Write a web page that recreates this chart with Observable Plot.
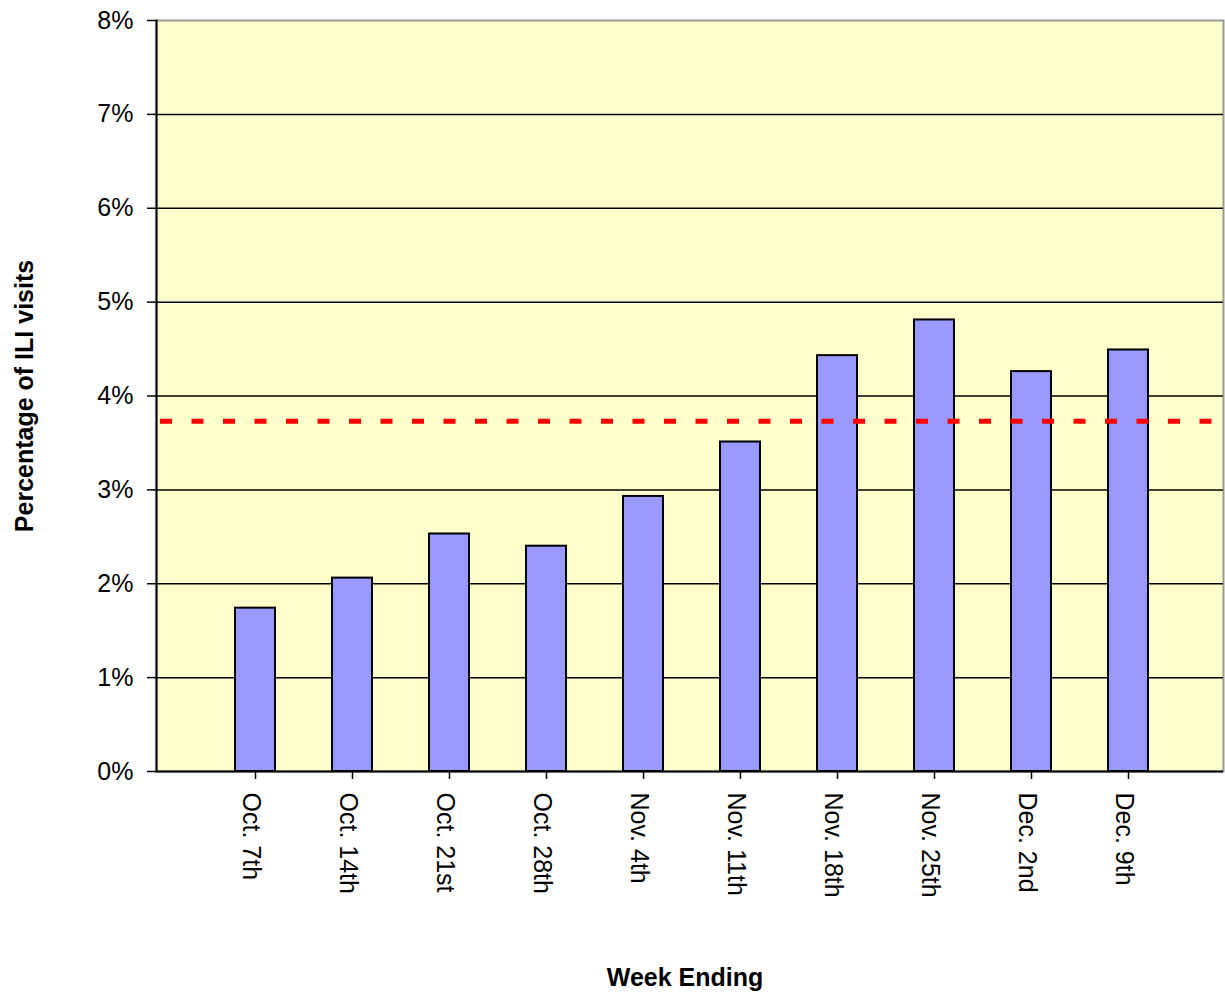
<!DOCTYPE html>
<html>
<head>
<meta charset="utf-8">
<script src="https://cdn.jsdelivr.net/npm/d3@7"></script>
<script src="https://cdn.jsdelivr.net/npm/@observablehq/plot@0.6"></script>
<style>
  html, body { margin: 0; padding: 0; background: #ffffff; }
  #chart svg { display: block; }
</style>
</head>
<body>
<div id="chart"></div>
<script>
const weeks = ["Oct. 7th","Oct. 14th","Oct. 21st","Oct. 28th","Nov. 4th","Nov. 11th","Nov. 18th","Nov. 25th","Dec. 2nd","Dec. 9th"];
const iliPct = [1.74, 2.06, 2.53, 2.40, 2.93, 3.51, 4.43, 4.81, 4.26, 4.49];
const baselinePct = 3.73;
const yTicks = [0, 1, 2, 3, 4, 5, 6, 7, 8];
const gridTicks = [1, 2, 3, 4, 5, 6, 7];
const xTitle = "Week Ending";
const yTitle = "Percentage of ILI visits";

const data = weeks.map((w, i) => ({week: w, pct: iliPct[i]}));

const chart = Plot.plot({
  width: 1225,
  height: 996,
  marginLeft: 156,
  marginRight: 2,
  marginTop: 20,
  marginBottom: 225,
  style: {fontFamily: "'Liberation Sans', Arial, sans-serif", fontSize: "25px", color: "#000", background: "#ffffff"},
  x: {type: "band", domain: weeks, paddingInner: 0.588, paddingOuter: 0.784, align: 0.512},
  y: {domain: [0, 8]},
  marks: [
    Plot.frame({fill: "#FFFFCC", stroke: "#999999", strokeWidth: 2}),
    Plot.ruleY(gridTicks, {stroke: "#000", strokeWidth: 1.5}),
    Plot.barY(data, {x: "week", y: "pct", fill: "#9999FF", stroke: "#000", strokeWidth: 2}),
    Plot.ruleY([baselinePct], {stroke: "#FF0000", strokeWidth: 5, strokeDasharray: "12,19.5", strokeDashoffset: -4}),
    Plot.frame({anchor: "left", stroke: "#000", strokeWidth: 2}),
    Plot.ruleY([0], {stroke: "#000", strokeWidth: 2}),
    Plot.axisY({ticks: yTicks, tickFormat: d => d + "%", tickSize: 9, tickPadding: 14, fontSize: 25, label: null, stroke: "#000", strokeWidth: 1.5}),
    Plot.axisX({tickSize: 8, tickFormat: () => "", label: null, stroke: "#000", strokeWidth: 1.5}),
    Plot.text(weeks, {x: d => d, frameAnchor: "bottom", rotate: 90, textAnchor: "start", lineAnchor: "middle", dx: -5, dy: 21, fontSize: 25, fill: "#000"}),
    Plot.text([yTitle], {frameAnchor: "left", dx: -132, rotate: -90, fontSize: 25, fontWeight: "bold", textAnchor: "middle", lineAnchor: "middle", fill: "#000"}),
    Plot.text([xTitle], {frameAnchor: "bottom", dx: -5, dy: 206, fontSize: 25, fontWeight: "bold", textAnchor: "middle", lineAnchor: "middle", fill: "#000"})
  ]
});
document.getElementById("chart").appendChild(chart);
</script>
</body>
</html>
